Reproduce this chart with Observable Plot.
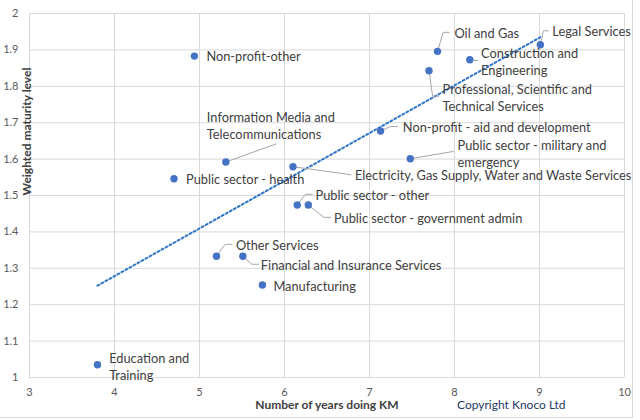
<!DOCTYPE html>
<html><head><meta charset="utf-8">
<script src="https://cdn.jsdelivr.net/npm/d3@7"></script>
<script src="https://cdn.jsdelivr.net/npm/@observablehq/plot@0.6"></script>
<style>
body{margin:0;background:#fff;}
#wrap{position:relative;width:640px;height:420px;overflow:hidden;}
#border{position:absolute;left:-2px;top:-2px;width:635px;height:420px;border:1px solid #d9d9d9;box-sizing:border-box;pointer-events:none;}
</style></head><body><div id="wrap"><div id="chart"></div><div id="border"></div></div>
<script>
// ---- data ----
const sectors = [
  "Non-profit-other",
  "Information Media and Telecommunications",
  "Public sector - health",
  "Electricity, Gas Supply, Water and Waste Services",
  "Public sector - other",
  "Public sector - government admin",
  "Oil and Gas",
  "Construction and Engineering",
  "Professional, Scientific and Technical Services",
  "Legal Services",
  "Non-profit - aid and development",
  "Public sector - military and emergency",
  "Other Services",
  "Financial and Insurance Services",
  "Manufacturing",
  "Education and Training"
];
const years    = [4.94, 5.31, 4.70, 6.10, 6.15, 6.28, 7.80, 8.18, 7.70, 9.01, 7.13, 7.48, 5.20, 5.51, 5.74, 3.80];
const maturity = [1.883, 1.592, 1.546, 1.579, 1.474, 1.474, 1.896, 1.873, 1.843, 1.914, 1.677, 1.601, 1.333, 1.333, 1.254, 1.035];
const xTicks = [3, 4, 5, 6, 7, 8, 9, 10];
const yTicks = [1, 1.1, 1.2, 1.3, 1.4, 1.5, 1.6, 1.7, 1.8, 1.9, 2];
const xTitle = "Number of years doing KM";
const yTitle = "Weighted maturity level";
const copyright = "Copyright Knoco Ltd";

// ---- label layout (pixel offsets from each point) ----
const labelLayout = [
  {dx: 12,   dy: 0,     wrap: 0, leader: []},
  {dx: -19,  dy: -37,   wrap: 3, leader: [[50, -18]]},
  {dx: 12,   dy: 0,     wrap: 0, leader: []},
  {dx: 62,   dy: 8,     wrap: 0, leader: [[58, 8]]},
  {dx: 18.3, dy: -10.7, wrap: 0, leader: [[8.3, -10.7], [15, -10.7]]},
  {dx: 25.6, dy: 12.4,  wrap: 0, leader: [[15.6, 12.4], [22.3, 12.4]]},
  {dx: 17,   dy: -19,   wrap: 0, leader: [[5.7, -19], [11.7, -19]]},
  {dx: 11.3, dy: 1.2,   wrap: 2, leader: [[8, 1]]},
  {dx: 13.6, dy: 26.5,  wrap: 3, leader: [[3.6, 25.5], [10, 25.5]]},
  {dx: 12,   dy: -14,   wrap: 0, leader: [[3, -14], [8, -14]]},
  {dx: 22.3, dy: -4.6,  wrap: 0, leader: [[10, -4.6], [17, -4.6]]},
  {dx: 47.3, dy: -5.8,  wrap: 5, leader: [[43, -7.3]]},
  {dx: 19.4, dy: -12,   wrap: 0, leader: [[8.7, -12], [15.4, -12]]},
  {dx: 18,   dy: 8,     wrap: 0, leader: [[9, 8], [15.6, 8]]},
  {dx: 11,   dy: 0.7,   wrap: 0, leader: []},
  {dx: 11.7, dy: 1.3,   wrap: 2, leader: []}
];

const W = 640, H = 420, ML = 29, MR = 16, MT = 13, MB = 43;
const xDomain = [3, 10], yDomain = [1, 2];
const kx = (W - ML - MR) / (xDomain[1] - xDomain[0]);
const ky = (H - MT - MB) / (yDomain[1] - yDomain[0]);

const points = sectors.map((s, i) => ({sector: s, x: years[i], y: maturity[i], ...labelLayout[i]}));
const labels = points.map(p => {
  const w = p.sector.split(" ");
  const text = p.wrap ? w.slice(0, p.wrap).join(" ") + "\n" + w.slice(p.wrap).join(" ") : p.sector;
  return {text, x: p.x + p.dx / kx, y: p.y - p.dy / ky};
});
const leaders = points.flatMap((p, i) => p.leader.length
  ? [[0, 0], ...p.leader].map(([a, b]) => ({id: i, x: p.x + a / kx, y: p.y - b / ky}))
  : []);

const chart = Plot.plot({
  width: W, height: H,
  marginLeft: ML, marginRight: MR, marginTop: MT, marginBottom: MB,
  style: {fontFamily: "Lato, sans-serif", fontSize: "11px", color: "#595959", background: "transparent"},
  x: {domain: xDomain, ticks: xTicks, tickSize: 0, tickPadding: 11, tickFormat: d => String(d), label: null},
  y: {domain: yDomain, ticks: yTicks, tickSize: 0, tickPadding: 11, tickFormat: d => String(+d.toFixed(1)), label: null},
  marks: [
    Plot.ruleX(xTicks, {stroke: "#d9d9d9"}),
    Plot.ruleY(yTicks, {stroke: "#d9d9d9"}),
    Plot.linearRegressionY(points, {x: "x", y: "y", stroke: "#2e75c8", strokeWidth: 2, strokeDasharray: "2 2.6", ci: 0}),
    Plot.line(leaders, {x: "x", y: "y", z: "id", stroke: "#a6a6a6", strokeWidth: 1}),
    Plot.dot(points, {x: "x", y: "y", r: 3.7, fill: "#4472c4"}),
    Plot.text(labels, {x: "x", y: "y", text: "text", textAnchor: "start", lineAnchor: "middle", lineHeight: 1.31, fontSize: 12.8, fill: "#404040"}),
    Plot.text([xTitle], {text: d => d, frameAnchor: "bottom", dy: 31, fontWeight: "bold", fontSize: 12, fill: "#404040"}),
    Plot.text([copyright], {text: d => d, frameAnchor: "bottom", dx: 130, dy: 31, textAnchor: "start", fontSize: 12, fill: "#1f3864"}),
    Plot.text([yTitle], {text: d => d, frameAnchor: "left", rotate: -90, dx: -2, fontWeight: "bold", fontSize: 12, fill: "#404040"})
  ]
});
document.getElementById("chart").appendChild(chart);
</script>
</body></html>
